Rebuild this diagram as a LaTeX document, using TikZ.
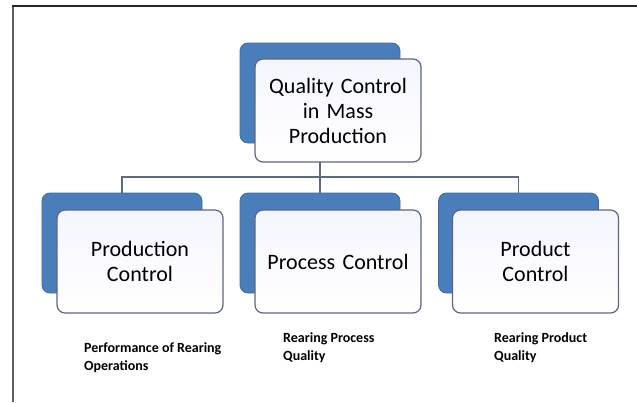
\documentclass[tikz,border=0pt]{standalone}
\usepackage{fontspec}
\setmainfont{Carlito}
\usetikzlibrary{backgrounds}

\definecolor{backblue}{HTML}{4A7EBB}
\definecolor{edgegray}{HTML}{5C6485}
\definecolor{linkgray}{HTML}{5E6A80}

\begin{document}
\begin{tikzpicture}[
  x=1pt, y=-1pt,
  back/.style={fill=backblue, draw=backblue!85!black, line width=0.8pt, rounded corners=8pt,
               minimum width=160pt, minimum height=100pt, inner sep=0pt},
  front/.style={draw=edgegray, line width=1.2pt, rounded corners=8pt,
                top color=blue!4, bottom color=white,
                minimum width=163pt, minimum height=103pt, inner sep=4pt,
                align=center, font=\fontsize{22}{25}\selectfont, text width=158pt},
  link/.style={draw=linkgray, line width=1.3pt},
  note/.style={font=\fontsize{14}{18}\selectfont\bfseries, align=left, anchor=north west, inner sep=0pt}
]
\useasboundingbox (0,0) rectangle (637,402);

% ---------------- frame ----------------
\draw[draw=black!62, line width=2pt] (13,402) -- (13,6);
\draw[draw=black!85, line width=1.5pt] (12,6) -- (637,6);

% ---------------- top ----------------
\node[back] (topback) at (320,93) {};
\node[front] (top) at (338,110.5) {Quality Control\\in Mass\\Production};

% ---------------- children ----------------
\node[back] (prodback) at (122,243) {};
\node[front] (prod) at (140,261.5) {Production\\Control};

\node[back] (procback) at (320,243) {};
\node[front] (proc) at (338,261.5) {Process Control};

\node[back] (prodtback) at (518.5,243) {};
\node[front] (prodt) at (535.5,261.5) {Product\\Control};

% ---------------- connectors ----------------
\coordinate (bus) at (320,177);
\begin{scope}[on background layer]
  \draw[link] (topback.south) -- (bus);
  \draw[link] (bus) -| (prodback.north);
  \draw[link] (bus) -- (procback.north);
  \draw[link] (bus) -| (prodtback.north);
\end{scope}

% ---------------- notes ----------------
\node[note] (prodnote) at (84,342) {Performance of Rearing\\Operations};
\node[note] (procnote) at (283,332) {Rearing Process\\Quality};
\node[note] (prodtnote) at (494,332) {Rearing Product\\Quality};

\end{tikzpicture}
\end{document}
